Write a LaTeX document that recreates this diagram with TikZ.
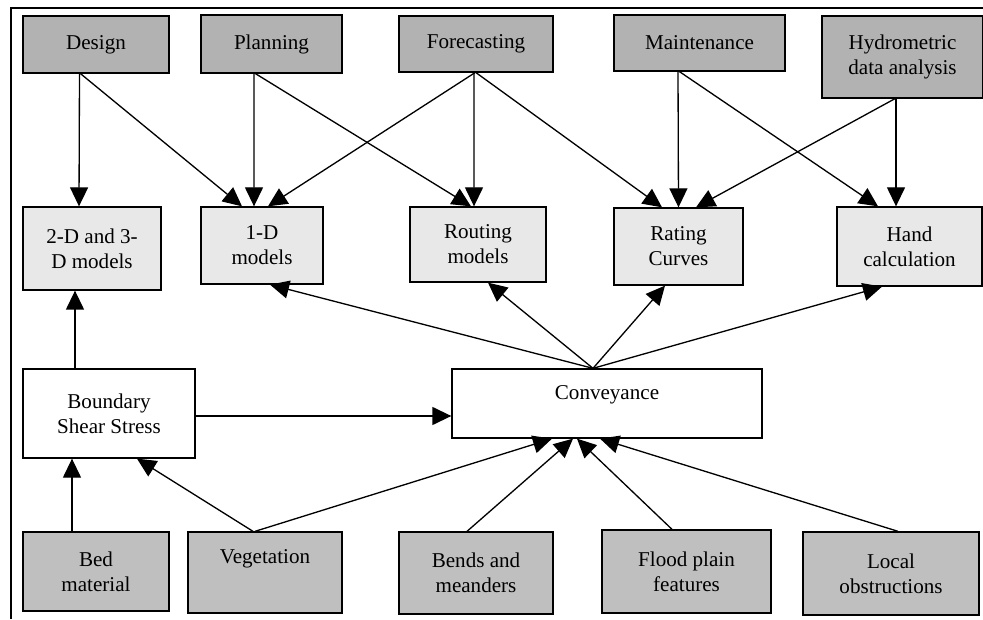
\documentclass[tikz,border=0pt]{standalone}
\usepackage{fontspec}
\setmainfont{Liberation Serif}
\usetikzlibrary{arrows.meta}

\begin{document}
\begin{tikzpicture}[
  box/.style={draw, line width=0.75pt, align=center, inner sep=0pt,
    font=\fontsize{12}{14.2}\selectfont},
  topbox/.style={box, fill=black!30},
  midbox/.style={box, fill=black!9},
  plainbox/.style={box, fill=white},
  botbox/.style={box, fill=black!25},
  arr/.style={line width=0.75pt, -{Triangle[length=0.38cm, width=0.36cm]}}]

\useasboundingbox (0,0) rectangle (19.66,12.38);

% frame
\draw[line width=0.8pt] (0.22,0) -- (0.22,12.22) -- (19.66,12.22);

% uses
\node[topbox, minimum width=2.92cm, minimum height=1.14cm] (design) at (1.92,11.49) {Design};
\node[topbox, minimum width=2.82cm, minimum height=1.16cm] (planning) at (5.43,11.50) {Planning};
\node[topbox, minimum width=3.08cm, minimum height=1.12cm] (forecast) at (9.52,11.50) {Forecasting};
\node[topbox, minimum width=3.42cm, minimum height=1.12cm] (maint) at (13.99,11.52) {Maintenance};
\node[topbox, minimum width=3.22cm, minimum height=1.64cm] (hydro) at (18.05,11.24) {Hydrometric\\data analysis};

% methods
\node[midbox, minimum width=2.76cm, minimum height=1.66cm] (twod) at (1.84,7.41) {2-D and 3-\\D models};
\node[midbox, minimum width=2.44cm, minimum height=1.54cm] (oned) at (5.24,7.47) {1-D\\models};
\node[midbox, minimum width=2.72cm, minimum height=1.50cm] (routing) at (9.56,7.49) {Routing\\models};
\node[midbox, minimum width=2.58cm, minimum height=1.54cm] (rating) at (13.57,7.45) {Rating\\Curves};
\node[midbox, minimum width=2.90cm, minimum height=1.58cm] (hand) at (18.19,7.45) {Hand\\calculation};

% middle
\node[plainbox, minimum width=3.44cm, minimum height=1.78cm] (shear) at (2.18,4.11) {Boundary\\Shear Stress};
\node[plainbox, minimum width=6.20cm, minimum height=1.38cm, text depth=0.44cm] (conv) at (12.14,4.31) {Conveyance};

% factors
\node[botbox, minimum width=2.92cm, minimum height=1.58cm] (bed) at (1.92,0.95) {Bed\\material};
\node[botbox, minimum width=3.08cm, minimum height=1.62cm, text depth=0.64cm] (veg) at (5.30,0.93) {Vegetation};
\node[botbox, minimum width=3.08cm, minimum height=1.64cm] (bends) at (9.52,0.92) {Bends and\\meanders};
\node[botbox, minimum width=3.38cm, minimum height=1.66cm] (flood) at (13.73,0.95) {Flood plain\\features};
\node[botbox, minimum width=3.52cm, minimum height=1.66cm] (local) at (17.82,0.91) {Local\\obstructions};

% uses to methods
\draw[arr] ([xshift=-0.33cm]design.south) -- ([xshift=-0.26cm]twod.north);
\draw[arr] ([xshift=-0.31cm]design.south) -- ([xshift=-0.40cm]oned.north);
\draw[arr] ([xshift=-0.35cm]planning.south) -- ([xshift=-0.16cm]oned.north);
\draw[arr] ([xshift=-0.32cm]planning.south) -- ([xshift=-0.14cm]routing.north);
\draw[arr] ([xshift=-0.02cm]forecast.south) -- ([xshift=0.12cm]oned.north);
\draw[arr] ([xshift=-0.04cm]forecast.south) -- ([xshift=-0.08cm]routing.north);
\draw[arr] (forecast.south) -- ([xshift=-0.33cm]rating.north);
\draw[arr] ([xshift=-0.43cm]maint.south) -- (rating.north);
\draw[arr] ([xshift=-0.40cm]maint.south) -- ([xshift=-0.63cm]hand.north);
\draw[arr] ([xshift=-0.15cm]hydro.south) -- ([xshift=0.35cm]rating.north);
\draw[arr] ([xshift=-0.13cm]hydro.south) -- ([xshift=-0.27cm]hand.north);

% conveyance to methods
\draw[arr] ([xshift=-0.28cm]conv.north) -- ([xshift=0.16cm]oned.south);
\draw[arr] ([xshift=-0.28cm]conv.north) -- ([xshift=0.20cm]routing.south);
\draw[arr] ([xshift=-0.28cm]conv.north) -- ([xshift=-0.27cm]rating.south);
\draw[arr] ([xshift=-0.28cm]conv.north) -- ([xshift=-0.55cm]hand.south);

% shear stress
\draw[arr] ([xshift=-0.68cm]shear.north) -- ([xshift=-0.34cm]twod.south);
\draw[arr] ([yshift=-0.05cm]shear.east) -- ([yshift=-0.05cm]shear.east -| conv.west);

% factors to shear stress and conveyance
\draw[arr] ([xshift=-0.48cm]bed.north) -- ([xshift=-0.48cm]bed.north |- shear.south);
\draw[arr] ([xshift=-0.24cm]veg.north) -- ([xshift=0.56cm]shear.south);
\draw[arr] ([xshift=-0.20cm]veg.north) -- ([xshift=-1.10cm]conv.south);
\draw[arr] ([xshift=-0.18cm]bends.north) -- ([xshift=-0.68cm]conv.south);
\draw[arr] ([xshift=-0.29cm]flood.north) -- ([xshift=-0.60cm]conv.south);
\draw[arr] ([xshift=0.14cm]local.north) -- ([xshift=-0.14cm]conv.south);

\end{tikzpicture}
\end{document}
